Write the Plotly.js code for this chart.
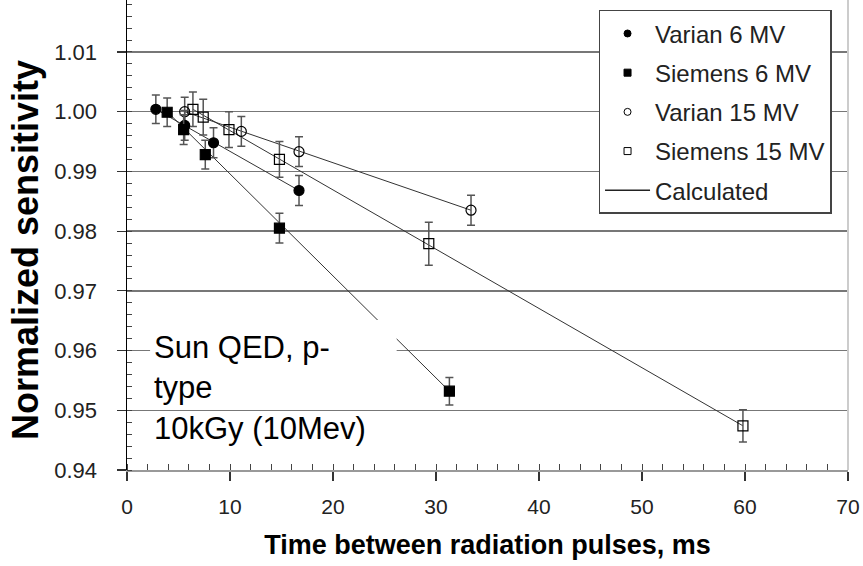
<!DOCTYPE html>
<html>
<head>
<meta charset="utf-8">
<script src="https://cdn.plot.ly/plotly-3.0.1.min.js"></script>
<style>html,body{margin:0;padding:0;background:#fff;}#chart{width:863px;height:566px;}</style>
</head>
<body>
<div id="chart"></div>
<script>
// ---- data ----
const varian6X = [2.8, 5.6, 8.4, 16.7];
const varian6Y = [1.0004, 0.9977, 0.9948, 0.9868];
const varian6Err = [0.0024, 0.0025, 0.0025, 0.0025];

const siemens6X = [3.9, 5.5, 7.6, 14.8, 31.3];
const siemens6Y = [0.9999, 0.9970, 0.9928, 0.9805, 0.9532];
const siemens6Err = [0.0024, 0.0025, 0.0024, 0.0025, 0.0023];

const varian15X = [5.6, 11.1, 16.7, 33.4];
const varian15Y = [1.0000, 0.9967, 0.9933, 0.9835];
const varian15Err = [0.0024, 0.0025, 0.0025, 0.0025];

const siemens15X = [6.4, 7.4, 9.9, 14.8, 29.3, 59.8];
const siemens15Y = [1.0004, 0.9991, 0.9970, 0.9920, 0.9779, 0.9474];
const siemens15Err = [0.0029, 0.0030, 0.0030, 0.0030, 0.0036, 0.0027];

// calculated lines (end points)
const calcV6X = [2.8, 16.7],  calcV6Y = [1.0004, 0.9868];
const calcS6X = [3.9, 31.3],  calcS6Y = [1.0000, 0.9532];
const calcV15X = [5.6, 33.4], calcV15Y = [1.0000, 0.9835];
const calcS15X = [6.4, 59.8], calcS15Y = [1.0004, 0.9474];

const seriesNames = ["Varian 6 MV", "Siemens 6 MV", "Varian 15 MV", "Siemens 15 MV", "Calculated"];
const noteText = "Sun QED, p-<br>type<br>10kGy (10Mev)";
const xTitle = "Time between radiation pulses, ms";
const yTitle = "Normalized sensitivity&nbsp;&nbsp;&nbsp;";

// ---- traces ----
const lineStyle = {color: "#333", width: 1};
function calc(x, y) {
  return {x: x, y: y, mode: "lines", line: lineStyle, showlegend: false, hoverinfo: "skip"};
}
function pts(x, y, e, symbol, size) {
  return {
    x: x, y: y, mode: "markers", showlegend: false,
    marker: {symbol: symbol, size: size, color: "#000", line: {color: "#000", width: 1.2}},
    error_y: {type: "data", array: e, visible: true, color: "#555", thickness: 1.5, width: 4}
  };
}
function leg(name, symbol, group) {
  return {x: [null], y: [null], mode: "markers", name: name, legendgroup: group,
    marker: {symbol: symbol, size: 7, color: "#000", line: {color: "#000", width: 1}}};
}

const traces = [
  calc(calcV6X, calcV6Y), calc(calcS6X, calcS6Y), calc(calcV15X, calcV15Y), calc(calcS15X, calcS15Y),
  pts(varian15X, varian15Y, varian15Err, "circle-open", 10),
  pts(siemens15X, siemens15Y, siemens15Err, "square-open", 10),
  pts(varian6X, varian6Y, varian6Err, "circle", 10),
  pts(siemens6X, siemens6Y, siemens6Err, "square", 10),
  leg(seriesNames[0], "circle", "g1"),
  leg(seriesNames[1], "square", "g2"),
  leg(seriesNames[2], "circle-open", "g3"),
  leg(seriesNames[3], "square-open", "g4"),
  {x: [null], y: [null], mode: "lines", name: seriesNames[4], legendgroup: "g5",
   line: {color: "#222", width: 1.5}}
];

const layout = {
  width: 863, height: 566,
  margin: {l: 127, r: 15, t: 0, b: 96},
  paper_bgcolor: "#fff", plot_bgcolor: "#fff",
  font: {family: "Liberation Sans, Arial, sans-serif", color: "#111"},
  xaxis: {
    range: [0, 70], dtick: 10, showgrid: false, zeroline: false,
    showline: true, linecolor: "#999", linewidth: 2,
    ticks: "outside", ticklen: 9, tickwidth: 1.2, tickcolor: "#333",
    tickfont: {size: 21, color: "#222"}, ticklabelstandoff: 8,
    minor: {dtick: 2, ticks: "inside", ticklen: 6, tickcolor: "#444", tickwidth: 1},
    title: {text: xTitle, font: {size: 27, weight: "bold", color: "#000"}, standoff: 18}
  },
  yaxis: {
    range: [0.94, 1.0187], dtick: 0.01, tickformat: ".2f",
    showgrid: true, gridcolor: "#777", gridwidth: 1.5, zeroline: false,
    showline: true, linecolor: "#000", linewidth: 1.5,
    ticks: "outside", ticklen: 9, tickwidth: 1.2, tickcolor: "#333",
    tickfont: {size: 22, color: "#222"}, ticklabelstandoff: 15,
    minor: {dtick: 0.002, ticks: "inside", ticklen: 5, tickcolor: "#444", tickwidth: 1, showgrid: false},
    title: {text: yTitle, font: {size: 36, weight: "bold", color: "#000"}, standoff: 4}
  },
  legend: {
    x: 0.654, y: 0.979, xanchor: "left", yanchor: "top",
    bgcolor: "#fff", bordercolor: "#444", borderwidth: 1.5,
    font: {size: 24, color: "#222"}, tracegroupgap: 5, itemwidth: 45
  },
  shapes: [
    {type: "rect", xref: "paper", yref: "paper", x0: 0.032, x1: 0.374, y0: 0.132, y1: 0.319,
     fillcolor: "#fff", line: {width: 0}, layer: "above"},
    {type: "line", xref: "paper", yref: "paper", x0: 1, x1: 1, y0: 0, y1: 1,
     line: {color: "#ccc", width: 2}}
  ],
  annotations: [
    {text: noteText, xref: "paper", yref: "paper", x: 0.034, y: 0.302, xanchor: "left", yanchor: "top",
     align: "left", showarrow: false, font: {size: 31, color: "#000"}}
  ]
};

Plotly.newPlot("chart", traces, layout, {displayModeBar: false, staticPlot: true});
</script>
</body>
</html>
